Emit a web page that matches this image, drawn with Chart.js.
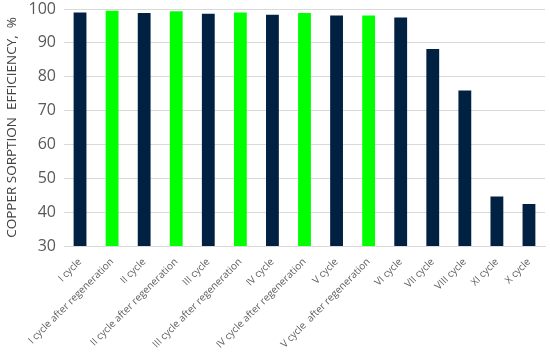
<!DOCTYPE html>
<html>
<head>
<meta charset="utf-8">
<script src="https://cdn.jsdelivr.net/npm/chart.js@4.4.0/dist/chart.umd.min.js"></script>
<style>
  html, body { margin: 0; padding: 0; background: #fff; }
  #wrap { width: 550px; height: 355px; }
</style>
</head>
<body>
<div id="wrap"><canvas id="chart"></canvas></div>
<script>
// Data
const categories = [
    'I cycle', 'I cycle after regeneration', 'II cycle', 'II cycle after regeneration',
    'III cycle', 'III cycle after regeneration', 'IV cycle', 'IV cycle after regeneration',
    'V cycle', 'V cycle  after regeneration', 'VI cycle', 'VII cycle', 'VIII cycle',
    'XI cycle', 'X cycle'
];
const efficiency = [99.0, 99.5, 98.8, 99.3, 98.6, 99.0, 98.3, 98.8, 98.1, 98.1, 97.5, 88.2, 75.9, 44.6, 42.4];
const yTicks = [30, 40, 50, 60, 70, 80, 90, 100];

// Colors: regeneration bars are green
const barColors = categories.map(c => c.includes('after regeneration') ? '#00ff00' : '#002142');

Chart.defaults.font.family = '"Open Sans", Lato, sans-serif';
Chart.defaults.color = '#595959';

const ctx = document.getElementById('chart').getContext('2d');
new Chart(ctx, {
    type: 'bar',
    data: {
        labels: categories,
        datasets: [{
            data: efficiency,
            backgroundColor: barColors,
            borderWidth: 0,
            barPercentage: 0.8,
            categoryPercentage: 0.5
        }]
    },
    options: {
        responsive: true,
        maintainAspectRatio: false,
        animation: false,
        layout: { padding: { left: 4, right: 5, top: 9, bottom: 0 } },
        plugins: { legend: { display: false }, tooltip: { enabled: false } },
        scales: {
            x: {
                grid: { display: false },
                border: { color: '#d9d9d9' },
                ticks: {
                    autoSkip: false,
                    minRotation: 45,
                    maxRotation: 45,
                    padding: 2,
                    font: { size: 10 },
                    color: '#606060'
                },
                afterFit: (scale) => { scale.height = 109; }
            },
            y: {
                min: 30,
                max: 100,
                afterBuildTicks: (scale) => { scale.ticks = yTicks.map(v => ({ value: v })); },
                grid: { color: '#d9d9d9', drawTicks: false },
                border: { display: false },
                ticks: { padding: 8, font: { size: 16 }, color: '#595959' },
                title: {
                    display: true,
                    text: 'COPPER SORPTION  EFFICIENCY,  %',
                    font: { size: 13.5 },
                    color: '#404040',
                    padding: 0
                },
                afterFit: (scale) => {
                    scale.width = 60;
                    // let the top gridline sit close to the edge, as in the source
                    scale.paddingTop = 0;
                    scale.paddingBottom = 0;
                }
            }
        }
    }
});
</script>
</body>
</html>
